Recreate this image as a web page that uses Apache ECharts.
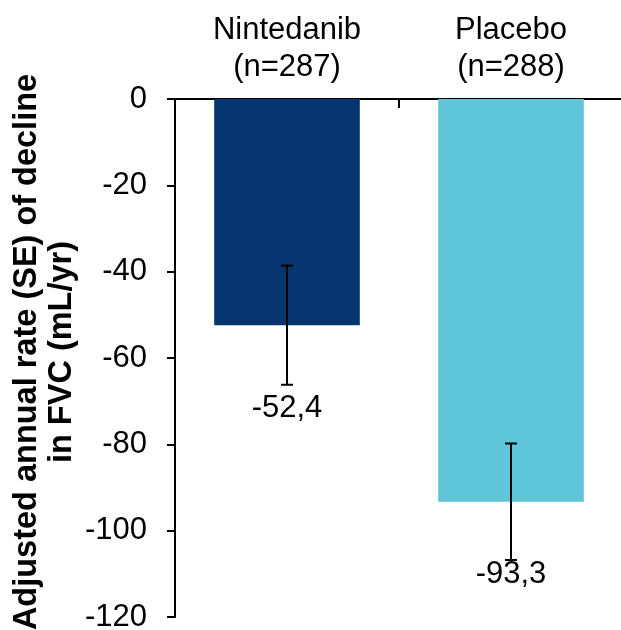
<!DOCTYPE html>
<html>
<head>
<meta charset="utf-8">
<script src="https://cdn.jsdelivr.net/npm/echarts@6/dist/echarts.min.js"></script>
<style>
  html, body { margin: 0; padding: 0; background: #fff; }
  #chart { width: 621px; height: 630px; }
</style>
</head>
<body>
<div id="chart"></div>
<script>
// Adjusted annual rate of FVC decline by treatment arm
const groups = ['Nintedanib', 'Placebo'];
const groupSizes = [287, 288];
const rates = [-52.4, -93.3];
const standardErrors = [13.8, 13.5];
const yTicks = { min: -120, max: 0, step: 20 };

const barColors = ['#06356f', '#5ec6d8'];
const valueLabelGap = [24, 14];   // px below the lower whisker cap
const FONT = '"Liberation Sans", Arial, sans-serif';

const chart = echarts.init(document.getElementById('chart'), null, { renderer: 'canvas' });

const categoryNames = groups.map((g, i) => g + '\n(n=' + groupSizes[i] + ')');
const errorData = rates.map((r, i) => [i, r - standardErrors[i], r + standardErrors[i], r]);

chart.setOption({
  backgroundColor: '#ffffff',
  animation: false,
  grid: { left: 175, top: 99, width: 448, bottom: 13, containLabel: false, outerBoundsMode: 'none' },
  xAxis: {
    type: 'category',
    position: 'top',
    data: categoryNames,
    axisLine: { show: true, lineStyle: { color: '#000', width: 2 } },
    axisTick: { show: true, inside: true, length: 9, alignWithLabel: false, lineStyle: { color: '#000', width: 2 } },
    axisLabel: { color: '#000', fontFamily: FONT, fontSize: 31, lineHeight: 37, margin: 13 },
    splitLine: { show: false }
  },
  yAxis: {
    type: 'value',
    min: yTicks.min,
    max: yTicks.max,
    interval: yTicks.step,
    name: 'Adjusted annual rate (SE) of decline\nin FVC (mL/yr)',
    nameLocation: 'middle',
    nameRotate: 90,
    nameGap: 95,
    nameMoveOverlap: false,
    nameTextStyle: {
      color: '#000', fontFamily: FONT, fontSize: 32.5, fontWeight: 'bold', lineHeight: 35,
      padding: [0, 0, 0, 12]
    },
    axisLine: { show: true, lineStyle: { color: '#000', width: 2 } },
    axisTick: { show: true, inside: false, length: 8, lineStyle: { color: '#000', width: 2 } },
    axisLabel: { color: '#000', fontFamily: FONT, fontSize: 31, margin: 28 },
    splitLine: { show: false }
  },
  series: [
    {
      type: 'bar',
      barWidth: '65%',
      data: rates.map((v, i) => ({ value: v, itemStyle: { color: barColors[i] } })),
      silent: true
    },
    {
      type: 'custom',
      data: errorData,
      z: 10,
      renderItem: function (params, api) {
        const idx = api.value(0);
        const lo = api.coord([idx, api.value(1)]);
        const hi = api.coord([idx, api.value(2)]);
        const cap = 6;
        const style = { stroke: '#000', lineWidth: 2 };
        const labelText = api.value(3).toFixed(1).replace('.', ',');
        return {
          type: 'group',
          children: [
            { type: 'line', shape: { x1: lo[0], y1: lo[1], x2: hi[0], y2: hi[1] }, style: style },
            { type: 'line', shape: { x1: lo[0] - cap, y1: lo[1], x2: lo[0] + cap, y2: lo[1] }, style: style },
            { type: 'line', shape: { x1: hi[0] - cap, y1: hi[1], x2: hi[0] + cap, y2: hi[1] }, style: style },
            {
              type: 'text',
              x: lo[0],
              y: lo[1] + valueLabelGap[params.dataIndex],
              style: {
                text: labelText,
                fill: '#000',
                font: '31px ' + FONT,
                textAlign: 'center',
                textVerticalAlign: 'middle'
              }
            }
          ]
        };
      }
    }
  ]
});
</script>
</body>
</html>
